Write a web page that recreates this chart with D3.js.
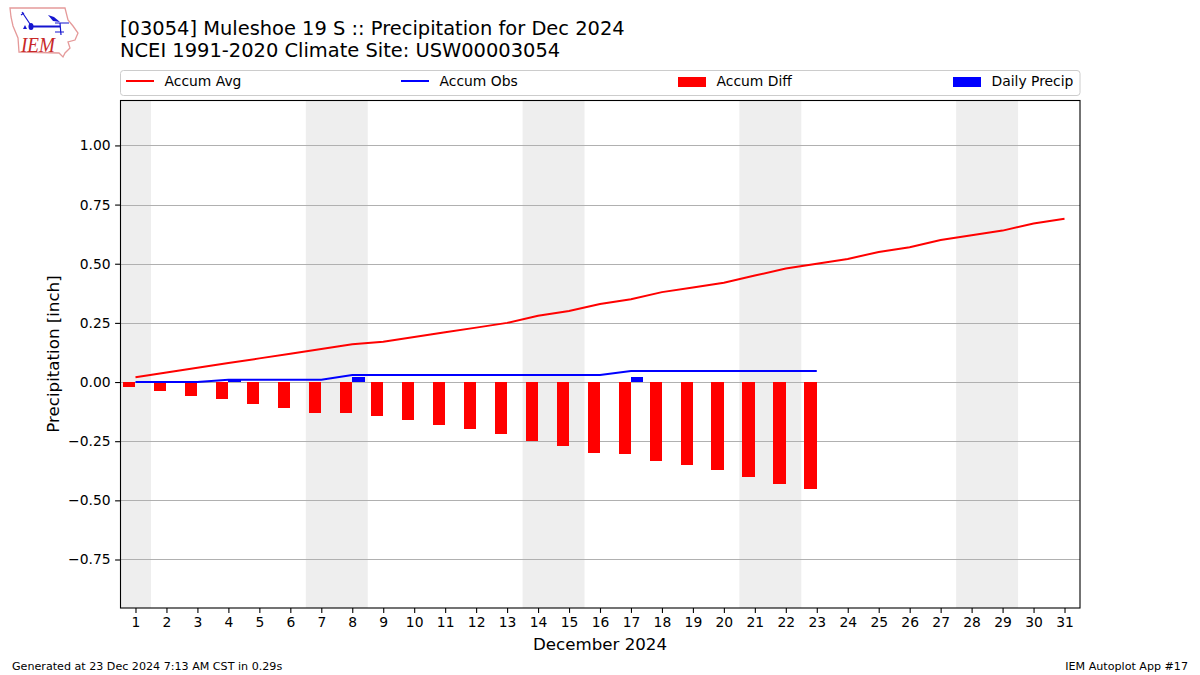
<!DOCTYPE html>
<html><head><meta charset="utf-8">
<style>html,body{margin:0;padding:0;background:#fff}svg{display:block}text{font-family:"DejaVu Sans",sans-serif;fill:#000}</style>
<script src="https://cdn.jsdelivr.net/npm/d3@7"></script></head><body>
<script>
const days = d3.range(1, 32);
const accumAvg = [0.02,0.04,0.06,0.08,0.10,0.12,0.14,0.16,0.17,0.19,0.21,0.23,0.25,0.28,0.30,0.33,0.35,0.38,0.40,0.42,0.45,0.48,0.50,0.52,0.55,0.57,0.60,0.62,0.64,0.67,0.69];
const accumObs = [0,0,0,0.01,0.01,0.01,0.01,0.03,0.03,0.03,0.03,0.03,0.03,0.03,0.03,0.03,0.047,0.047,0.047,0.047,0.047,0.047,0.047];
const accumDiff = [-0.02,-0.038,-0.059,-0.072,-0.093,-0.11,-0.131,-0.131,-0.144,-0.16,-0.18,-0.20,-0.22,-0.25,-0.27,-0.30,-0.304,-0.333,-0.35,-0.372,-0.40,-0.431,-0.452];
const dailyPrecip = [0,0,0,0.01,0,0,0,0.02,0,0,0,0,0,0,0,0,0.02,0,0,0,0,0,0];
const weekends = [[0.5,1.5],[6.5,8.5],[13.5,15.5],[20.5,22.5],[27.5,29.5]];
const yTicks = [-0.75,-0.50,-0.25,0,0.25,0.50,0.75,1.00];
const legendLabels = ["Accum Avg","Accum Obs","Accum Diff","Daily Precip"];
const titleLines = ["[03054] Muleshoe 19 S :: Precipitation for Dec 2024","NCEI 1991-2020 Climate Site: USW00003054"];

const L=120,R=1080,T=100,B=608;
const svg=d3.select("body").append("svg").attr("width",1200).attr("height",675);
const x=d3.scaleLinear().domain([0.5,31.5]).range([L,R]);
const y=d3.scaleLinear().domain([-0.955,1.192]).range([B,T]);
const barW=x(0.4)-x(0);
const rx0=v=>Math.round(v);

const plot=svg.append("g");
plot.selectAll(".wk").data(weekends).join("rect").attr("x",d=>x(d[0])).attr("width",d=>x(d[1])-x(d[0])).attr("y",T).attr("height",B-T).attr("fill","#eeeeee");
plot.selectAll(".gr").data(yTicks).join("line").attr("x1",L).attr("x2",R).attr("y1",d=>Math.round(y(d))+0.5).attr("y2",d=>Math.round(y(d))+0.5).attr("stroke","#b0b0b0").attr("stroke-width",1.1);
plot.selectAll(".diff").data(accumDiff).join("rect")
  .attr("x",(d,i)=>rx0(x(i+1)-barW)).attr("width",(d,i)=>rx0(x(i+1))-rx0(x(i+1)-barW))
  .attr("y",rx0(y(0))).attr("height",d=>rx0(y(d))-rx0(y(0))).attr("fill","#ff0000");
plot.selectAll(".pr").data(dailyPrecip.map((v,i)=>[i+1,v]).filter(d=>d[1]>0)).join("rect")
  .attr("x",d=>rx0(x(d[0]))).attr("width",d=>rx0(x(d[0])+barW)-rx0(x(d[0])))
  .attr("y",d=>rx0(y(d[1]))).attr("height",d=>rx0(y(0))-rx0(y(d[1]))).attr("fill","#0000ff");
const line=d3.line().x((d,i)=>x(i+1)).y(d=>y(d));
plot.append("path").attr("d",line(accumAvg)).attr("fill","none").attr("stroke","#ff0000").attr("stroke-width",2);
plot.append("path").attr("d",line(accumObs)).attr("fill","none").attr("stroke","#0000ff").attr("stroke-width",2);

svg.append("rect").attr("x",L+0.5).attr("y",T+0.5).attr("width",R-L-0.5).attr("height",B-T-0.5).attr("fill","none").attr("stroke","#000").attr("stroke-width",1.1);

const xAxis=svg.append("g").attr("transform",`translate(0,${B})`).call(d3.axisBottom(x).tickValues(days).tickFormat(d3.format("d")).tickSize(4.9).tickPadding(4.5));
xAxis.select(".domain").remove();
const yAxis=svg.append("g").attr("transform",`translate(${L},0)`).call(d3.axisLeft(y).tickValues(yTicks).tickFormat(d=>d3.format(".2f")(d).replace("-","\u2212")).tickSize(4.9).tickPadding(4.5));
yAxis.select(".domain").remove();
svg.selectAll(".tick text").style("font-family",'"DejaVu Sans"').style("font-size","13.89px").attr("fill","#000");
svg.selectAll(".tick line").attr("stroke","#000").attr("stroke-width",1.1);

svg.append("text").attr("x",600).attr("y",649.5).attr("text-anchor","middle").style("font-size","16.67px").text("December 2024");
svg.append("text").attr("transform","translate(58.5,354) rotate(-90)").attr("text-anchor","middle").style("font-size","16.67px").text("Precipitation [inch]");

svg.selectAll(".ti").data(titleLines).join("text").attr("x",120).attr("y",(d,i)=>35+i*22).style("font-size","19.44px").text(d=>d);

svg.append("rect").attr("x",120.5).attr("y",70.5).attr("width",959.5).attr("height",25).attr("rx",3).attr("fill","#fff").attr("stroke","#cccccc");
const legX=[126,401,678,953];
legendLabels.forEach((t,i)=>{
  if(i<2) svg.append("line").attr("x1",legX[i]).attr("x2",legX[i]+28).attr("y1",81).attr("y2",81).attr("stroke",i==0?"#ff0000":"#0000ff").attr("stroke-width",2);
  else svg.append("rect").attr("x",legX[i]).attr("y",77).attr("width",28).attr("height",10).attr("fill",i==2?"#ff0000":"#0000ff");
  svg.append("text").attr("x",legX[i]+38.5).attr("y",86).style("font-size","13.89px").text(t);
});

svg.append("text").attr("x",12).attr("y",670).style("font-size","11.11px").text("Generated at 23 Dec 2024 7:13 AM CST in 0.29s");
svg.append("text").attr("x",1188).attr("y",670).attr("text-anchor","end").style("font-size","11.11px").text("IEM Autoplot App #17");

// logo
const logo=svg.append("g");
logo.append("path").attr("d","M10 8 L65 8 L68 20 L73 26 L78 33 L75 40 L68 42 L70 48 L65 53 L63 57 L59 53 L19 52 L18 38 L13 26 L11 17 Z").attr("fill","none").attr("stroke","#e59a9a").attr("stroke-width",1.3);
logo.append("path").attr("d","M31 26.5 L60 26.5").attr("fill","none").attr("stroke","#1515d0").attr("stroke-width",2);
logo.append("path").attr("d","M55 23 L69 23 M60 23 L61 35 M55 32 L64 32 M22 12 L26 18 L30 24 M21 15 L24 13").attr("fill","none").attr("stroke","#1515d0").attr("stroke-width",1.2);
logo.append("ellipse").attr("cx",31).attr("cy",26.5).attr("rx",2.5).attr("ry",3.5).attr("fill","#1515d0");
logo.append("path").attr("d","M48 15 L54 17 L60 22 L53 21 Z").attr("fill","#1515d0");
logo.append("path").attr("d","M23 29 L25 25 L27 29 Z").attr("fill","#1515d0");
logo.append("text").attr("x",21).attr("y",52).attr("textLength",34).attr("lengthAdjust","spacingAndGlyphs").style("font-family",'"Liberation Serif"').style("font-style","italic").style("font-size","20px").style("fill","#c82828").text("IEM");
</script></body></html>
